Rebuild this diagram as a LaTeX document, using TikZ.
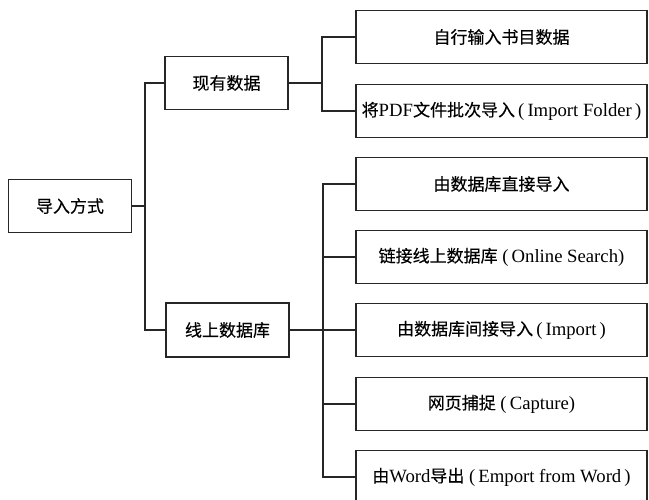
\documentclass[tikz,border=0pt]{standalone}
\usepackage{fontspec}
\setmainfont{Liberation Serif}[Scale=1.1]
\newfontfamily\cjk{Noto Sans CJK SC}[FakeBold=0.3]
\begin{document}
\begin{tikzpicture}[x=1pt,y=-1pt,
  box/.style={draw=black!85, line width=1.5pt, inner sep=0pt, align=center,
    font=\fontsize{17}{19}\selectfont\cjk},
  leftbox/.style={box, minimum width=123pt, minimum height=53pt},
  rightbox/.style={box, minimum width=291pt, minimum height=53pt},
  conn/.style={draw=black!85, line width=1.5pt}]
\useasboundingbox (0,0) rectangle (649,500);
\node[leftbox] (root) at (70,206) {导入方式};
\node[leftbox] (xy) at (226.5,83) {现有数据};
\node[leftbox, minimum height=54pt] (xs) at (227.5,330) {线上数据库};
\node[rightbox] (r1) at (501.5,37) {自行输入书目数据};
\node[rightbox] (r2) at (501.5,111) {将{\rmfamily PDF}文件批次导入{\rmfamily\,(\,Import Folder\,)}};
\node[rightbox] (r3) at (501.5,184) {由数据库直接导入};
\node[rightbox] (r4) at (501.5,257) {链接线上数据库{\rmfamily\ (\,Online Search)}};
\node[rightbox] (r5) at (501.5,330) {由数据库间接导入{\rmfamily\,(\,Import\,)}};
\node[rightbox] (r6) at (501.5,404) {网页捕捉{\rmfamily\ (\,Capture)}};
\node[rightbox] (r7) at (501.5,477) {由{\rmfamily Word}导出{\rmfamily\ (\,Emport from Word\,)}};
\coordinate (t1) at (145,0);
\coordinate (t2) at (322,0);
\coordinate (t3) at (323,0);
\draw[conn] (root.east) -- (root.east -| t1);
\draw[conn] (xy.west) -- (xy.west -| t1) -- (xs.west -| t1) -- (xs.west);
\draw[conn] (xy.east) -- (xy.east -| t2);
\draw[conn] (r1.west) -- (r1.west -| t2) -- (r2.west -| t2) -- (r2.west);
\draw[conn] (xs.east) -- (r5.west);
\draw[conn] (r3.west) -- (r3.west -| t3) -- (r7.west -| t3) -- (r7.west);
\draw[conn] (r4.west) -- (r4.west -| t3);
\draw[conn] (r6.west) -- (r6.west -| t3);
\end{tikzpicture}
\end{document}
